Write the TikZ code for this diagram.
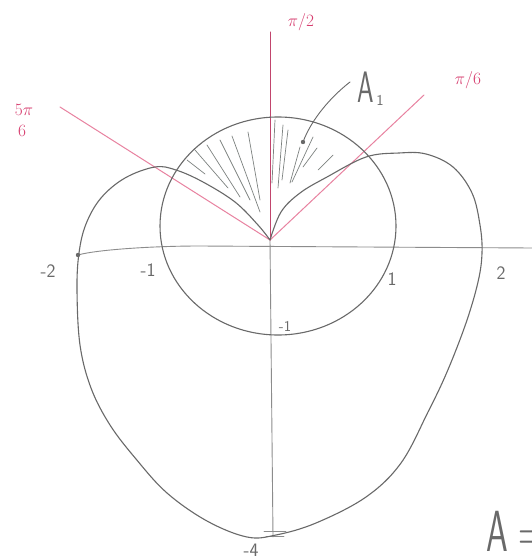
\documentclass[tikz,border=0pt]{standalone}
\usepackage{fontspec}
\definecolor{curvegray}{RGB}{105,105,105}
\definecolor{axisgray}{RGB}{140,140,140}
\definecolor{hatchgray}{RGB}{125,130,128}
\definecolor{rayPink}{RGB}{232,130,160}
\definecolor{labelPink}{RGB}{215,60,110}
\tikzset{
  curve/.style={draw=curvegray, line width=1.1pt, line join=round, line cap=round},
  axisline/.style={draw=axisgray, line width=0.9pt, line cap=round},
  ray/.style={draw=rayPink, line width=1pt, line cap=round},
  hatch/.style={draw=hatchgray, line width=0.7pt, line cap=round},
  pinklbl/.style={text=labelPink, font=\sffamily\fontsize{19}{19}\selectfont, inner sep=0pt},
  numlbl/.style={text=curvegray, font=\sffamily\fontsize{19}{19}\selectfont, inner sep=0pt},
  biglbl/.style={text=curvegray, inner sep=0pt, transform shape},
}
\begin{document}
\begin{tikzpicture}[x=1pt,y=-1pt]
\useasboundingbox (0,0) rectangle (532,559);
\fill[white] (0,0) rectangle (532,559);

% key points
\coordinate (O) at (270,240);
\coordinate (xL) at (78,255);
\coordinate (xR) at (532,248);
\coordinate (yB) at (273,537);
\coordinate (yT) at (270,32);
\coordinate (r56) at (60,107);
\coordinate (r16) at (424,95);
\coordinate (Cc) at (278,226);

% hatching of A1
\foreach \a/\b in {{(187,160)/(205,174)},{(195,150)/(228,188)},{(207,145)/(240,197)},
  {(220,140)/(250,200)},{(232,136)/(260,212)},{(248,132)/(260,200)},
  {(275,120)/(272,183)},{(283,125)/(278,188)},{(288,130)/(282,180)},
  {(300,147)/(290,183)},{(313,137)/(292,182)},{(317,148)/(303,167)},{(333,155)/(318,170)}}
  {\draw[hatch] \a -- \b;}

% axes
\draw[axisline] (xL) .. controls (95,250) and (150,246) .. (200,246) -- (xR);
\draw[axisline] (O) -- (yB);
\draw[axisline] (264,531) -- (286,531) (266,536) -- (284,536);

% pink rays
\draw[ray] (r56) -- (O) -- (r16);
\draw[ray, draw=labelPink!80!curvegray] (O) -- (yT);

% circle
\draw[curve] (Cc) ellipse [x radius=118, y radius=109];

% cardioid
\draw[curve] plot[smooth, tension=0.6] coordinates {
 (270,240) (281,212) (300,193) (327,177) (366,157) (399,153) (426,154) (453,167)
 (472,193) (480,225) (482,253) (478,282) (466,323) (447,372) (428,412) (401,463)
 (366,497) (316,523) (276,535) (247,537) (207,521) (167,493) (136,459) (110,425)
 (91,388) (80,345) (77,290) (79,253) (86,224) (101,198) (125,178) (155,167)
 (176,170) (203,182) (235,202) (258,225) (270,240)};

% point at -2
\fill[curvegray] (xL) circle (2.2pt);

% A1 pointer
\coordinate (dotA) at (303,142);
\coordinate (ptrStart) at (350,82);
\draw[curve, line width=0.9pt] (ptrStart) .. controls (332,96) and (312,118) .. (dotA);
\fill[curvegray] (dotA) circle (2.2pt);

% labels
\node[pinklbl] (lpi2) at (301,22) {$\pi/2$};
\node[pinklbl] (lpi6) at (468,80) {$\pi/6$};
\node[pinklbl, font=\sffamily\fontsize{17}{17}\selectfont] (l56a) at (24,110) {$5\pi$};
\node[pinklbl, font=\sffamily\fontsize{17}{17}\selectfont] (l56b) at (22,131) {$6$};
\node[biglbl, font=\sffamily\fontsize{44}{44}\selectfont, xscale=0.6] (lA1) at (366,87) {A};
\node[numlbl, font=\sffamily\fontsize{15}{15}\selectfont] (lA1sub) at (380,100) {1};

\node[numlbl] (lm2) at (48,271) {-2};
\node[numlbl] (lm1) at (148,270) {-1};
\node[numlbl] (l1) at (392,279) {1};
\node[numlbl] (l2) at (501,273) {2};
\node[numlbl, font=\sffamily\fontsize{15}{15}\selectfont] (lm1y) at (285,326) {-1};
\node[numlbl] (lm4) at (251,550) {-4};
\node[biglbl, anchor=west, font=\sffamily\fontsize{58}{58}\selectfont, xscale=0.6] (lA) at (486,531) {A =};
\end{tikzpicture}
\end{document}
